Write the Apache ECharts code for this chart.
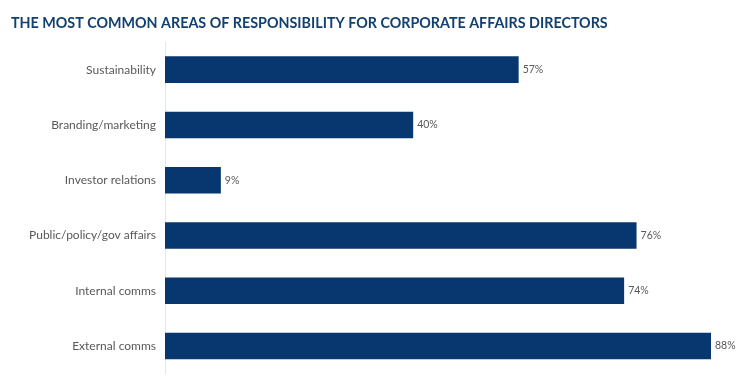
<!DOCTYPE html>
<html><head><meta charset="utf-8">
<script src="https://cdn.jsdelivr.net/npm/echarts@6/dist/echarts.min.js"></script>
<style>html,body{margin:0;padding:0;background:#fff}#c{width:750px;height:386px}</style>
</head><body><div id="c"></div>
<script>
var titleText = "THE MOST COMMON AREAS OF RESPONSIBILITY FOR CORPORATE AFFAIRS DIRECTORS";
var categories = ["Sustainability","Branding/marketing","Investor relations","Public/policy/gov affairs","Internal comms","External comms"];
var values = [57,40,9,76,74,88];

var chart = echarts.init(document.getElementById('c'));
chart.setOption({
  animation:false,
  backgroundColor:'#fff',
  title:{text:titleText,left:6,top:11,textStyle:{fontFamily:'Lato',fontWeight:'bold',fontSize:14.3,color:'#12406f'}},
  grid:{left:165,right:39,top:42,bottom:12.4,containLabel:false},
  xAxis:{type:'value',min:0,max:88,show:false},
  yAxis:{type:'category',data:categories,inverse:true,
    axisLine:{show:true,lineStyle:{color:'#e6e6e6',width:1}},
    axisTick:{show:false},
    axisLabel:{margin:9,fontFamily:'Lato',fontSize:12,color:'#595959'}},
  series:[{type:'bar',data:values,barWidth:'48%',itemStyle:{color:'#08376f'},
    label:{show:true,position:'right',distance:4,formatter:'{c}%',fontFamily:'Lato',fontSize:10.5,color:'#595959'}}]
});
</script></body></html>
